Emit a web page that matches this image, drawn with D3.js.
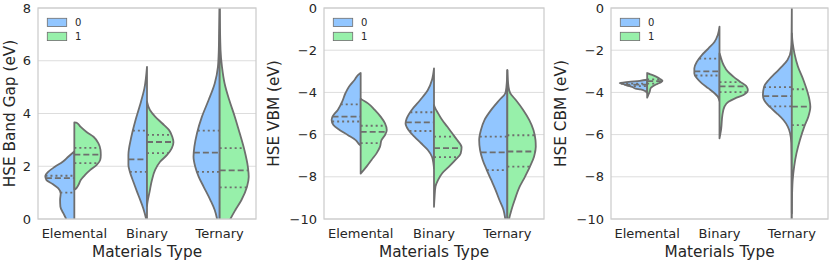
<!DOCTYPE html>
<html><head><meta charset="utf-8">
<script src="https://cdn.jsdelivr.net/npm/d3@7"></script>
<style>body{margin:0;background:#fff} svg{display:block} text{font-family:"DejaVu Sans",sans-serif}</style>
</head><body><svg id="chart" width="831" height="265"></svg>
<script>
// ---------------- data ----------------
const categories = ["Elemental", "Binary", "Ternary"];
const hueLevels = ["0", "1"];
const hueColors = ["#92C6FF", "#97F0AA"];
const gapTicks = [0, 2, 4, 6, 8];
const vbmTicks = [0, -2, -4, -6, -8, -10];
const cbmTicks = [0, -2, -4, -6, -8, -10];
const yLabels = ["HSE Band Gap (eV)", "HSE VBM (eV)", "HSE CBM (eV)"];
const xLabel = "Materials Type";

// density profiles: [value, relative density]
const gapElemental0 = [[2.56,0],[2.36,.21],[2.17,.40],[1.98,.67],[1.79,.90],[1.63,1.0],[1.48,.96],[1.33,.75],[1.16,.55],[0.97,.47],[0.72,.49],[0.47,.48],[0.22,.38],[0,.28],[-0.3,.18]];
const gapElemental1 = [[3.66,0],[3.65,.08],[3.50,.21],[3.31,.41],[3.12,.66],[2.87,.83],[2.62,.90],[2.43,.91],[2.24,.89],[2.05,.77],[1.86,.55],[1.67,.37],[1.48,.22],[1.29,.14],[1.13,.03],[1.12,0]];
const gapBinary0 = [[5.77,0],[4.95,.09],[4.32,.24],[3.69,.41],[3.06,.55],[2.43,.64],[2.05,.64],[1.79,.59],[1.41,.47],[0.91,.30],[0.41,.13],[0,.03],[-0.2,0]];
const gapBinary1 = [[4.45,0],[4.13,.10],[3.88,.28],[3.63,.52],[3.37,.76],[3.12,.87],[2.91,.91],[2.68,.85],[2.43,.69],[2.17,.45],[1.86,.28],[1.48,.17],[1.04,.09],[0.66,.02],[0.5,0]];
const gapTernary0 = [[8.2,0],[7.04,.02],[6.41,.03],[5.77,.06],[5.14,.17],[4.51,.38],[3.88,.61],[3.25,.78],[2.74,.87],[2.36,.90],[1.98,.84],[1.60,.72],[1.22,.55],[0.72,.32],[0.34,.17],[0,.09],[-0.3,.05]];
const gapTernary1 = [[8.2,0],[6.41,.03],[5.77,.08],[5.14,.17],[4.51,.33],[3.88,.52],[3.25,.69],[2.62,.85],[1.98,.97],[1.60,1.0],[1.22,.94],[0.72,.75],[0.34,.54],[0,.37],[-0.3,.25]];
const gapQuartiles0 = [[1.00,1.55,1.64],[1.79,2.26,3.35],[1.79,2.52,3.35]];
const gapQuartiles1 = [[2.12,2.44,2.70],[2.50,2.92,3.19],[1.20,1.84,2.69]];

const vbmElemental0 = [[-3.08,0],[-3.10,.03],[-3.41,.21],[-3.73,.40],[-4.04,.52],[-4.44,.63],[-4.83,.78],[-5.15,.96],[-5.31,.99],[-5.55,.93],[-5.78,.72],[-6.02,.44],[-6.26,.17],[-6.50,.02],[-6.52,0]];
const vbmElemental1 = [[-4.30,0],[-4.33,.03],[-4.52,.25],[-4.83,.48],[-5.15,.68],[-5.47,.83],[-5.78,.89],[-6.02,.83],[-6.26,.71],[-6.57,.66],[-6.89,.54],[-7.20,.37],[-7.52,.20],[-7.80,.03],[-7.85,0]];
const vbmBinary0 = [[-2.86,0],[-3.41,.07],[-3.89,.21],[-4.36,.47],[-4.83,.76],[-5.23,.93],[-5.47,.97],[-5.78,.87],[-6.10,.67],[-6.41,.44],[-6.73,.21],[-7.05,.07],[-7.36,.02],[-7.6,0]];
const vbmBinary1 = [[-4.60,0],[-4.68,.02],[-4.99,.14],[-5.31,.28],[-5.62,.45],[-5.94,.62],[-6.26,.79],[-6.60,.94],[-6.89,.91],[-7.20,.73],[-7.52,.51],[-7.83,.28],[-8.15,.14],[-8.47,.05],[-8.94,.02],[-9.42,0]];
const vbmTernary0 = [[-2.94,0],[-3.73,.03],[-4.04,.07],[-4.36,.27],[-4.83,.55],[-5.31,.78],[-5.78,.90],[-6.26,.96],[-6.73,.93],[-7.20,.84],[-7.68,.70],[-8.15,.55],[-8.63,.40],[-9.10,.27],[-9.57,.13],[-10,.07],[-10.3,.04]];
const vbmTernary1 = [[-2.94,0],[-3.73,.04],[-4.04,.10],[-4.36,.29],[-4.83,.54],[-5.31,.75],[-5.78,.89],[-6.26,.96],[-6.57,.97],[-7.05,.91],[-7.52,.77],[-8.00,.60],[-8.47,.42],[-9.10,.25],[-9.57,.14],[-10,.06],[-10.3,.03]];
const vbmQuartiles0 = [[-5.38,-5.15,-4.57],[-5.83,-5.42,-4.94],[-7.68,-6.84,-6.10]];
const vbmQuartiles1 = [[-6.40,-5.87,-5.58],[-7.07,-6.64,-6.10],[-7.52,-6.80,-6.03]];

const cbmElemental0 = [[-3.40,0],[-3.45,.25],[-3.50,.64],[-3.56,.95],[-3.60,.85],[-3.68,.69],[-3.74,.52],[-3.82,.40],[-3.86,.23],[-3.93,.08],[-4.02,0]];
const cbmElemental1 = [[-3.08,0],[-3.10,.03],[-3.17,.17],[-3.25,.31],[-3.35,.43],[-3.45,.53],[-3.52,.48],[-3.60,.34],[-3.70,.21],[-3.80,.12],[-3.95,.09],[-4.15,.03],[-4.25,0]];
const cbmBinary0 = [[-0.88,0],[-1.28,.06],[-1.60,.17],[-1.91,.38],[-2.23,.61],[-2.54,.78],[-2.86,.87],[-3.10,.87],[-3.33,.78],[-3.57,.61],[-3.81,.38],[-4.04,.17],[-4.20,.06],[-4.41,0]];
const cbmBinary1 = [[-2.15,0],[-2.23,.02],[-2.70,.14],[-3.02,.29],[-3.25,.48],[-3.49,.71],[-3.73,.94],[-3.89,.98],[-4.12,.83],[-4.28,.54],[-4.44,.31],[-4.68,.17],[-5.07,.10],[-5.70,.06],[-6.18,0]];
const cbmTernary0 = [[0.1,0],[-1.52,.01],[-1.99,.03],[-2.46,.15],[-2.77,.34],[-3.10,.58],[-3.41,.80],[-3.73,.96],[-4.12,1.0],[-4.36,.96],[-4.68,.77],[-4.99,.52],[-5.31,.29],[-5.62,.14],[-5.94,.06],[-6.41,.02],[-7.52,.01],[-10.3,.01]];
const cbmTernary1 = [[-1.20,0],[-1.67,.03],[-2.15,.09],[-2.77,.21],[-3.41,.40],[-3.89,.52],[-4.36,.61],[-4.68,.64],[-5.15,.57],[-5.62,.43],[-6.26,.28],[-6.89,.16],[-7.52,.08],[-8.15,.03],[-8.78,.01],[-9.73,0]];
const cbmQuartiles0 = [[-3.70,-3.63,-3.58],[-3.20,-3.00,-2.40],[-4.66,-4.18,-3.75]];
const cbmQuartiles1 = [[-3.58,-3.47,-3.38],[-3.99,-3.71,-3.51],[-5.55,-4.67,-3.85]];

// ---------------- layout ----------------
const panels = [
  {label: yLabels[0], domain: [0, 8], ticks: gapTicks, left: 38, right: 256, ylabelX: 15,
   profiles: [[gapElemental0, gapElemental1], [gapBinary0, gapBinary1], [gapTernary0, gapTernary1]],
   quartiles: [gapQuartiles0, gapQuartiles1]},
  {label: yLabels[1], domain: [-10, 0], ticks: vbmTicks, left: 324, right: 544, ylabelX: 279,
   profiles: [[vbmElemental0, vbmElemental1], [vbmBinary0, vbmBinary1], [vbmTernary0, vbmTernary1]],
   quartiles: [vbmQuartiles0, vbmQuartiles1]},
  {label: yLabels[2], domain: [-10, 0], ticks: cbmTicks, left: 611, right: 828, ylabelX: 566,
   profiles: [[cbmElemental0, cbmElemental1], [cbmBinary0, cbmBinary1], [cbmTernary0, cbmTernary1]],
   quartiles: [cbmQuartiles0, cbmQuartiles1]}
];
const TOP = 8, BOTTOM = 219;
const gray = "#6e6e6e";
const textColor = "#262626";
const FONT = "DejaVu Sans";

function densityAt(prof, v) {
  for (let i = 0; i < prof.length - 1; i++) {
    const a = prof[i], b = prof[i + 1];
    if ((v <= a[0] && v >= b[0])) {
      const t = (a[0] - v) / (a[0] - b[0] || 1);
      return a[1] + t * (b[1] - a[1]);
    }
  }
  return 0;
}

const svg = d3.select("#chart");
const defs = svg.append("defs");

panels.forEach((p, pi) => {
  const g = svg.append("g");
  const x = d3.scaleBand().domain(categories).range([p.left, p.right]);
  const y = d3.scaleLinear().domain(p.domain).range([BOTTOM, TOP]);
  const w = d3.scaleLinear().domain([0, 1]).range([0, x.bandwidth() * 0.4]);

  // grid
  g.append("g").selectAll("line").data(p.ticks).join("line")
    .attr("x1", p.left).attr("x2", p.right)
    .attr("y1", d => y(d)).attr("y2", d => y(d))
    .attr("stroke", "#dddddd").attr("stroke-width", 1);

  defs.append("clipPath").attr("id", "clip" + pi).append("rect")
    .attr("x", p.left).attr("y", TOP).attr("width", p.right - p.left).attr("height", BOTTOM - TOP);
  const vg = g.append("g").attr("clip-path", `url(#clip${pi})`);

  categories.forEach((c, ci) => {
    const cx = x(c) + x.bandwidth() / 2;
    [0, 1].forEach(h => {
      const prof = p.profiles[ci][h];
      const sign = h === 0 ? -1 : 1;
      const area = d3.area()
        .y(d => y(d[0]))
        .x0(cx)
        .x1(d => cx + sign * w(d[1]))
        .curve(d3.curveMonotoneY);
      vg.append("path").attr("d", area(prof))
        .attr("fill", hueColors[h]).attr("stroke", gray)
        .attr("stroke-width", 1.8).attr("stroke-linejoin", "round");
    });
    [0, 1].forEach(h => {
      const prof = p.profiles[ci][h];
      const sign = h === 0 ? -1 : 1;
      p.quartiles[h][ci].forEach((qv, qi) => {
        const dens = densityAt(prof, qv);
        const xe = cx + sign * w(dens);
        vg.append("line")
          .attr("x1", h === 0 ? xe : cx).attr("x2", h === 0 ? cx : xe)
          .attr("y1", y(qv)).attr("y2", y(qv))
          .attr("stroke", gray).attr("stroke-width", 1.8)
          .attr("stroke-dasharray", qi === 1 ? "6,3" : "2,3");
      });
    });
  });

  // spines
  g.append("rect").attr("x", p.left).attr("y", TOP)
    .attr("width", p.right - p.left).attr("height", BOTTOM - TOP)
    .attr("fill", "none").attr("stroke", "#cccccc").attr("stroke-width", 1.25);

  // y axis
  const ya = g.append("g").attr("transform", `translate(${p.left},0)`)
    .call(d3.axisLeft(y).tickValues(p.ticks).tickSize(0).tickPadding(7)
      .tickFormat(d => d < 0 ? "\u2212" + Math.abs(d) : String(d)));
  ya.select(".domain").remove();
  ya.attr("font-size", 13).attr("font-family", FONT).attr("color", textColor);

  // x axis
  const xa = g.append("g").attr("transform", `translate(0,${BOTTOM})`)
    .call(d3.axisBottom(x).tickSize(0).tickPadding(10));
  xa.select(".domain").remove();
  xa.attr("font-size", 13).attr("font-family", FONT).attr("color", textColor);

  // labels
  g.append("text").attr("x", (p.left + p.right) / 2).attr("y", 256.5)
    .attr("text-anchor", "middle").attr("font-size", 15.3).attr("fill", textColor).text(xLabel);
  g.append("text").attr("transform", `translate(${p.ylabelX},${(TOP + BOTTOM) / 2}) rotate(-90)`)
    .attr("text-anchor", "middle").attr("font-size", 15.3).attr("fill", textColor).text(p.label);

  // legend
  hueLevels.forEach((lv, i) => {
    g.append("rect").attr("x", p.left + 9.3).attr("y", 18.3 + i * 14)
      .attr("width", 19.4).attr("height", 8.3)
      .attr("fill", hueColors[i]).attr("stroke", gray).attr("stroke-width", 0.8);
    g.append("text").attr("x", p.left + 37).attr("y", 22.5 + i * 14).attr("dy", "0.35em")
      .attr("font-size", 10).attr("fill", textColor).text(lv);
  });
});
</script></body></html>
